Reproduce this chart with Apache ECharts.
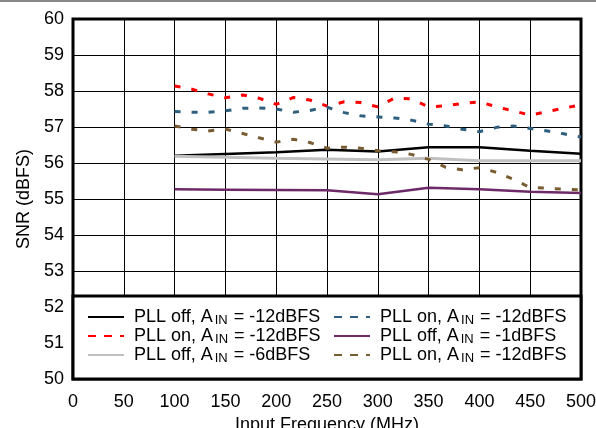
<!DOCTYPE html>
<html>
<head>
<meta charset="utf-8">
<script src="https://cdn.jsdelivr.net/npm/echarts@6/dist/echarts.min.js"></script>
<style>
html,body{margin:0;padding:0;background:#fff;}
#chart{width:596px;height:428px;}
</style>
</head>
<body>
<div id="chart"></div>
<script>
// Frequencies (MHz)
const freqDense = [100,117,133,150,167,183,200,217,233,250,267,283,300,317,333,350,367,383,400,417,433,450,467,483,500];
const freqCoarse = [100,150,200,250,300,350,400,450,500];

// SNR values (dBFS)
const pllOffM12 = [56.20,56.25,56.30,56.37,56.32,56.44,56.44,56.34,56.26];
const pllOnM12Red = [58.14,58.05,57.92,57.81,57.89,57.80,57.63,57.82,57.75,57.58,57.70,57.68,57.56,57.81,57.78,57.56,57.59,57.65,57.70,57.56,57.45,57.33,57.43,57.52,57.62];
const pllOffM6 = [56.19,56.16,56.13,56.11,56.09,56.13,56.06,56.06,56.06];
const pllOnM12Teal = [57.43,57.41,57.41,57.45,57.52,57.53,57.50,57.41,57.46,57.55,57.40,57.31,57.28,57.25,57.19,57.08,57.03,56.94,56.87,56.99,57.03,56.96,56.89,56.81,56.72];
const pllOffM1 = [55.27,55.26,55.25,55.24,55.13,55.31,55.27,55.20,55.17];
const pllOnM12Brown = [57.03,56.94,56.89,56.94,56.82,56.70,56.58,56.66,56.57,56.41,56.44,56.41,56.34,56.31,56.24,56.10,55.88,55.81,55.87,55.74,55.55,55.32,55.30,55.27,55.25];

// Legend labels: [prefix, subscript, suffix]
const labels = {
  s1: ['PLL off, A', 'IN', ' = -12dBFS'],
  s2: ['PLL on, A', 'IN', ' = -12dBFS'],
  s3: ['PLL off, A', 'IN', ' = -6dBFS'],
  s4: ['PLL on, A', 'IN', ' = -12dBFS'],
  s5: ['PLL off, A', 'IN', ' = -1dBFS'],
  s6: ['PLL on, A', 'IN', ' = -12dBFS']
};
const xTicks = [0,50,100,150,200,250,300,350,400,450,500];
const yTicks = [50,51,52,53,54,55,56,57,58,59,60];

function pairs(xs, ys){ return xs.map((x,i)=>[x, ys[i]]); }

const FONT = '"Liberation Sans", Arial, sans-serif';
const chart = echarts.init(document.getElementById('chart'), null, {renderer:'canvas'});

const legendText = {
  fontFamily: FONT, fontSize: 18, color: '#000',
  rich: {
    p: {fontFamily: FONT, fontSize: 18, color:'#000', lineHeight: 19, padding:[0,0,0,5]},
    s: {fontFamily: FONT, fontSize: 13, color:'#000', lineHeight: 12, verticalAlign:'bottom', padding:[0,1,0,2]},
    a: {fontFamily: FONT, fontSize: 18, color:'#000', lineHeight: 19}
  }
};
const legendFmt = name => '{p|' + labels[name][0] + '}{s|' + labels[name][1] + '}{a|' + labels[name][2] + '}';

const dashed = [6, 11];
const legendDash = [8, 8];
const noSym = {opacity: 0};

const option = {
  animation: false,
  backgroundColor: '#fff',
  grid: {left: 73, right: 15, top: 19, bottom: 49, show: true, borderColor: '#000', borderWidth: 3, z: 3,
    outerBoundsMode: 'none', containLabel: false},
  xAxis: {
    type: 'value', min: 0, max: 500, interval: 50,
    axisLine: {show: false}, axisTick: {show: false},
    axisLabel: {fontFamily: FONT, fontSize: 18, color: '#000', margin: 14,
      formatter: v => xTicks.includes(v) ? String(v) : ''},
    splitLine: {show: true, lineStyle: {color: '#000', width: 1}},
    name: 'Input Frequency (MHz)', nameLocation: 'middle', nameGap: 32,
    nameTextStyle: {fontFamily: FONT, fontSize: 18, color: '#000'}
  },
  yAxis: {
    type: 'value', min: 50, max: 60, interval: 1,
    axisLine: {show: false}, axisTick: {show: false},
    axisLabel: {fontFamily: FONT, fontSize: 18, color: '#000', margin: 9,
      formatter: v => yTicks.includes(v) ? String(v) : ''},
    splitLine: {show: true, lineStyle: {color: '#000', width: 1}},
    name: 'SNR (dBFS)', nameLocation: 'middle', nameGap: 40,
    nameTextStyle: {fontFamily: FONT, fontSize: 18, color: '#000'}
  },
  legend: [
    {
      orient: 'vertical', left: 87, top: 308, padding: 0, itemGap: 0.5,
      itemWidth: 36, itemHeight: 14, z: 10, itemStyle: noSym,
      data: [
        {name: 's1', itemStyle: noSym},
        {name: 's2', itemStyle: noSym, lineStyle: {type: legendDash}},
        {name: 's3', itemStyle: noSym}
      ],
      formatter: legendFmt, textStyle: legendText
    },
    {
      orient: 'vertical', left: 333, top: 308, padding: 0, itemGap: 0.5,
      itemWidth: 36, itemHeight: 14, z: 10, itemStyle: noSym,
      data: [
        {name: 's4', itemStyle: noSym, lineStyle: {type: legendDash}},
        {name: 's5', itemStyle: noSym},
        {name: 's6', itemStyle: noSym, lineStyle: {type: legendDash}}
      ],
      formatter: legendFmt, textStyle: legendText
    }
  ],
  graphic: [
    {type: 'rect', left: 0, top: 0, shape: {width: 596, height: 2}, style: {fill: '#888'}, z: 20},
    {type: 'rect', shape: {x: 73, y: 296, width: 508, height: 83}, style: {fill: '#fff', stroke: '#000', lineWidth: 3}, z: 8}
  ],
  series: [
    {name: 's1', type: 'line', data: pairs(freqCoarse, pllOffM12), symbol: 'none', color: '#000',
      lineStyle: {color: '#000', width: 2.5}, z: 4},
    {name: 's2', type: 'line', data: pairs(freqDense, pllOnM12Red), symbol: 'none', color: '#ff0000',
      lineStyle: {color: '#ff0000', width: 3, type: dashed}, z: 4},
    {name: 's3', type: 'line', data: pairs(freqCoarse, pllOffM6), symbol: 'none', color: '#c0c0c0',
      lineStyle: {color: '#c0c0c0', width: 3}, z: 4},
    {name: 's4', type: 'line', data: pairs(freqDense, pllOnM12Teal), symbol: 'none', color: '#2e5f7e',
      lineStyle: {color: '#2e5f7e', width: 3, type: dashed}, z: 4},
    {name: 's5', type: 'line', data: pairs(freqCoarse, pllOffM1), symbol: 'none', color: '#6e2a68',
      lineStyle: {color: '#6e2a68', width: 2.5}, z: 4},
    {name: 's6', type: 'line', data: pairs(freqDense, pllOnM12Brown), symbol: 'none', color: '#7a5c32',
      lineStyle: {color: '#7a5c32', width: 3, type: dashed}, z: 4}
  ]
};
chart.setOption(option);
</script>
</body>
</html>
